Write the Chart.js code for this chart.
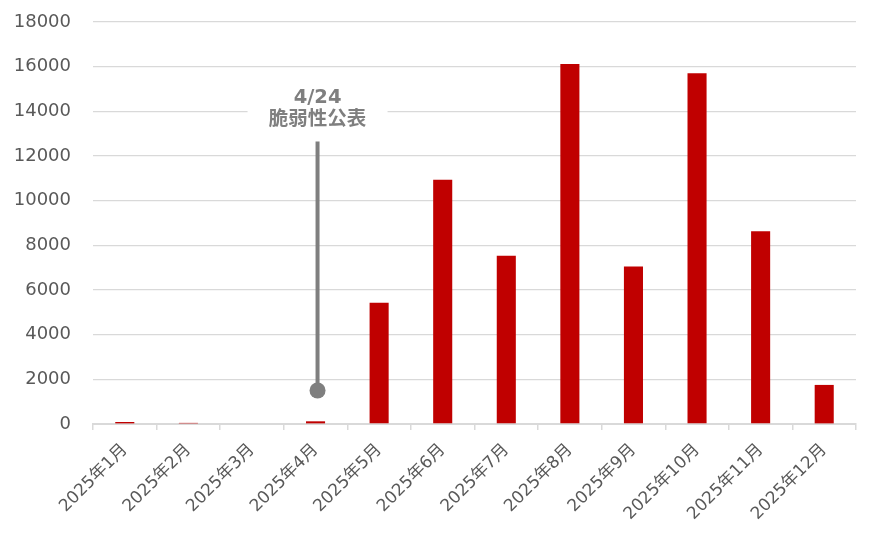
<!DOCTYPE html>
<html>
<head>
<meta charset="utf-8">
<script src="https://cdn.jsdelivr.net/npm/chart.js@4/dist/chart.umd.min.js"></script>
<style>
  html, body { margin: 0; padding: 0; background: #fff; }
  #wrap { width: 874px; height: 545px; }
</style>
</head>
<body>
<div id="wrap"><canvas id="c"></canvas></div>
<script>
// データ
const months = ['2025年1月','2025年2月','2025年3月','2025年4月','2025年5月','2025年6月',
                '2025年7月','2025年8月','2025年9月','2025年10月','2025年11月','2025年12月'];
const counts = [90, 50, 0, 120, 5430, 10940, 7530, 16120, 7050, 15700, 8630, 1750];
const yTicks = [0, 2000, 4000, 6000, 8000, 10000, 12000, 14000, 16000, 18000];
const noteLines = ['4/24', '脆弱性公表'];

const GRAY_TXT = '#595959';
const GRID = '#d9d9d9';
const NOTE = '#7f7f7f';
const FONT = "'DejaVu Sans', 'Noto Sans CJK JP', sans-serif";

// 注釈（4月の位置に縦線と丸、上にテキスト）
const notePlugin = {
  id: 'note',
  afterDraw(chart) {
    const ctx = chart.ctx;
    const x = chart.scales.x.getPixelForValue(3) + 2;
    const y = chart.scales.y;
    const yDot = y.getPixelForValue(1500);
    const yTop = y.getPixelForValue(12650);
    ctx.save();
    // テキスト背景（目盛線を隠す）
    ctx.fillStyle = '#fff';
    ctx.fillRect(x - 70, y.getPixelForValue(15000), 140, y.getPixelForValue(13200) - y.getPixelForValue(15000));
    ctx.strokeStyle = NOTE;
    ctx.lineWidth = 4;
    ctx.beginPath();
    ctx.moveTo(x, yTop);
    ctx.lineTo(x, yDot);
    ctx.stroke();
    ctx.fillStyle = NOTE;
    ctx.beginPath();
    ctx.arc(x, yDot, 8, 0, Math.PI * 2);
    ctx.fill();
    ctx.font = 'bold 19.5px ' + FONT;
    ctx.textAlign = 'center';
    ctx.textBaseline = 'middle';
    ctx.fillText(noteLines[0], x, y.getPixelForValue(14590));
    ctx.fillText(noteLines[1], x, y.getPixelForValue(13630));
    ctx.restore();
  }
};

new Chart(document.getElementById('c'), {
  type: 'bar',
  data: {
    labels: months,
    datasets: [{
      data: counts,
      backgroundColor: '#c00000',
      barPercentage: 0.6,
      categoryPercentage: 0.5
    }]
  },
  options: {
    responsive: true,
    maintainAspectRatio: false,
    animation: false,
    layout: { padding: { top: 22, right: 18, left: 0, bottom: 0 } },
    plugins: { legend: { display: false }, tooltip: { enabled: false } },
    scales: {
      x: {
        grid: { display: true, drawOnChartArea: false, drawTicks: true, tickLength: 6, color: GRID, lineWidth: 1.5 },
        border: { display: true, color: GRID, width: 2 },
        ticks: {
          color: GRAY_TXT,
          font: { family: FONT, size: 17 },
          minRotation: 45, maxRotation: 45,
          padding: 10
        },
        afterFit(s) { s.height = 545 - 424; }
      },
      y: {
        min: 0, max: 18000,
        afterBuildTicks(s) { s.ticks = yTicks.map(v => ({ value: v })); },
        grid: { color: GRID, lineWidth: 1.3, drawTicks: true, tickLength: 22, tickColor: 'rgba(0,0,0,0)' },
        border: { display: false },
        ticks: {
          color: GRAY_TXT,
          font: { family: FONT, size: 18 },
          padding: 0,
          callback: v => String(v)
        },
        afterFit(s) { s.width = 93; }
      }
    }
  },
  plugins: [notePlugin]
});
</script>
</body>
</html>
